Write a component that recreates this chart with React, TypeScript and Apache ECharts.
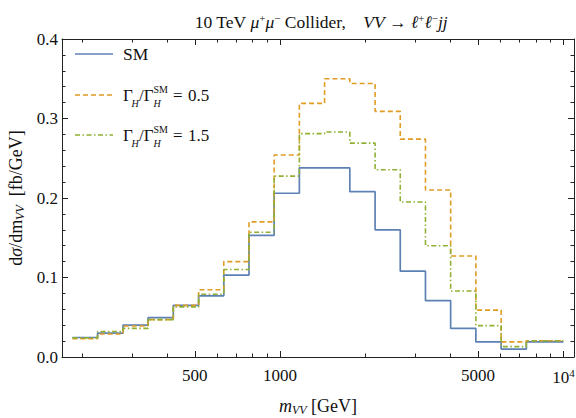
import React, { useEffect, useRef } from "react";
import * as echarts from "echarts";

// Histogram bin edges (GeV) and bin contents (fb/GeV)
const binEdges = [185, 227, 279, 342, 420, 516, 633, 777, 953, 1170, 1436, 1763, 2165, 2656, 3260, 4000, 4910, 6030, 7400, 10000];
const smValues = [0.0245, 0.030, 0.040, 0.0495, 0.065, 0.077, 0.103, 0.153, 0.206, 0.238, 0.238, 0.208, 0.160, 0.108, 0.071, 0.036, 0.019, 0.010, 0.019];
const width05Values = [0.023, 0.029, 0.039, 0.047, 0.065, 0.0845, 0.120, 0.170, 0.254, 0.319, 0.350, 0.344, 0.309, 0.274, 0.210, 0.127, 0.059, 0.019, 0.0205];
const width15Values = [0.024, 0.032, 0.036, 0.047, 0.063, 0.079, 0.110, 0.157, 0.2275, 0.281, 0.283, 0.269, 0.2355, 0.195, 0.140, 0.083, 0.0395, 0.013, 0.0205];

const seriesNames = ["SM", "ΓH/ΓH^SM = 0.5", "ΓH/ΓH^SM = 1.5"];
const legendRatios = ["0.5", "1.5"];

const majorXTicks = [500, 1000, 5000, 10000];
const minorXTicks = [200, 300, 400, 600, 700, 800, 900, 2000, 3000, 4000, 6000, 7000, 8000, 9000];
const xMin = 170;
const xMax = 10900;
const yMin = 0;
const yMax = 0.4;
const yInterval = 0.1;

const BLUE = "#5e81b5";
const ORANGE = "#e19c24";
const GREEN = "#8fb032";
const FRAME = "#222";
const FONT = "'Liberation Serif', 'DejaVu Serif', serif";

function stepData(values: number[]) {
  return binEdges.map((e, i) => [e, values[Math.min(i, values.length - 1)]]);
}

export default function App() {
  const ref = useRef<HTMLDivElement>(null);
  useEffect(() => {
    if (!ref.current) return;
    const chart = echarts.init(ref.current, null, { renderer: "svg" });

    const tickLine = { color: FRAME, width: 1 };
    const xBase = {
      type: "log" as const,
      logBase: 10,
      min: xMin,
      max: xMax,
      gridIndex: 0,
      splitLine: { show: false },
      minorTick: { show: false },
    };

    const nameRich = {
      i: { fontFamily: FONT, fontStyle: "italic", fontSize: 18, color: "#111", lineHeight: 20 },
      s: { fontFamily: FONT, fontStyle: "italic", fontSize: 12, color: "#111", verticalAlign: "bottom", lineHeight: 12 },
      n: { fontFamily: FONT, fontSize: 18, color: "#111", lineHeight: 20 },
    };

    const xAxes = [
      {
        ...xBase,
        position: "bottom",
        axisLine: { show: true, lineStyle: { color: FRAME, width: 1 } },
        axisTick: { show: true, inside: true, length: 6, lineStyle: tickLine, customValues: majorXTicks },
        axisLabel: {
          show: true,
          customValues: majorXTicks,
          margin: 10,
          color: "#111",
          fontFamily: FONT,
          fontSize: 17,
          formatter: (v: number) => (Math.abs(v - 10000) < 1 ? "{b|10}{s|4}" : String(Math.round(v))),
          rich: {
            b: { fontFamily: FONT, fontSize: 17, color: "#111", lineHeight: 20 },
            s: { fontFamily: FONT, fontSize: 11, color: "#111", verticalAlign: "top", lineHeight: 11 },
          },
        },
        name: "{i|m}{s|VV}{n| [GeV]}",
        nameLocation: "middle",
        nameGap: 39,
        nameTextStyle: { rich: nameRich },
      },
      {
        ...xBase,
        position: "bottom",
        axisLine: { show: false },
        axisTick: { show: true, inside: true, length: 3.5, lineStyle: tickLine, customValues: minorXTicks },
        axisLabel: { show: false },
      },
      {
        ...xBase,
        position: "top",
        axisLine: { show: true, lineStyle: { color: FRAME, width: 1 } },
        axisTick: { show: true, inside: true, length: 6, lineStyle: tickLine, customValues: majorXTicks },
        axisLabel: { show: false },
      },
      {
        ...xBase,
        position: "top",
        axisLine: { show: false },
        axisTick: { show: true, inside: true, length: 3.5, lineStyle: tickLine, customValues: minorXTicks },
        axisLabel: { show: false },
      },
    ];

    const yBase = {
      type: "value" as const,
      min: yMin,
      max: yMax,
      interval: yInterval,
      splitLine: { show: false },
      axisLine: { show: true, lineStyle: { color: FRAME, width: 1 } },
      axisTick: { show: true, inside: true, length: 6, lineStyle: tickLine },
      minorTick: { show: true, splitNumber: 5, length: 3.5, lineStyle: tickLine },
    };

    const yAxes = [
      {
        ...yBase,
        position: "left",
        axisLabel: {
          show: true,
          margin: 4,
          color: "#111",
          fontFamily: FONT,
          fontSize: 17,
          formatter: (v: number) => v.toFixed(1),
        },
        name: "{n|d}{i|σ}{n|/dm}{s|VV}{n|  [fb/GeV]}",
        nameLocation: "middle",
        nameRotate: 90,
        nameGap: 30,
        nameTextStyle: { rich: nameRich },
      },
      {
        ...yBase,
        position: "right",
        axisLabel: { show: false },
      },
    ];

    const legendText = (y: number, ratio: string) => {
      const base = { fontFamily: FONT, fill: "#111" };
      return [
        { type: "text", x: 123, y, style: { ...base, text: "Γ", fontSize: 17, verticalAlign: "middle" } },
        { type: "text", x: 131.5, y: y + 8.5, style: { ...base, text: "H", fontSize: 10, fontStyle: "italic", verticalAlign: "middle" } },
        { type: "text", x: 139, y, style: { ...base, text: "/Γ", fontSize: 17, verticalAlign: "middle" } },
        { type: "text", x: 153.5, y: y - 5.5, style: { ...base, text: "SM", fontSize: 10, verticalAlign: "middle" } },
        { type: "text", x: 153.5, y: y + 8.5, style: { ...base, text: "H", fontSize: 10, fontStyle: "italic", verticalAlign: "middle" } },
        { type: "text", x: 173, y, style: { ...base, text: "=", fontSize: 17, verticalAlign: "middle" } },
        { type: "text", x: 188, y, style: { ...base, text: ratio, fontSize: 17, verticalAlign: "middle" } },
      ];
    };

    const option: any = {
      animation: false,
      backgroundColor: "#fff",
      grid: { left: 62, right: 2, top: 39, bottom: 61, containLabel: false, outerBoundsMode: "none" },
      xAxis: xAxes,
      yAxis: yAxes,
      series: [
        {
          name: seriesNames[0],
          type: "line",
          step: "end",
          xAxisIndex: 0,
          yAxisIndex: 0,
          showSymbol: false,
          symbol: "none",
          lineStyle: { color: BLUE, width: 1.7 },
          data: stepData(smValues),
        },
        {
          name: seriesNames[1],
          type: "line",
          step: "end",
          xAxisIndex: 0,
          yAxisIndex: 0,
          showSymbol: false,
          symbol: "none",
          lineStyle: { color: ORANGE, width: 1.6, type: [5, 3] },
          data: stepData(width05Values),
        },
        {
          name: seriesNames[2],
          type: "line",
          step: "end",
          xAxisIndex: 0,
          yAxisIndex: 0,
          showSymbol: false,
          symbol: "none",
          lineStyle: { color: GREEN, width: 1.6, type: [5, 2.5, 1.5, 2.5] },
          data: stepData(width15Values),
        },
      ],
      graphic: [
        {
          type: "text",
          x: 321,
          y: 22,
          style: {
            text: "{r|10 TeV }{i|μ}{p|+}{i|μ}{p|−}{r| Collider,    }{i|VV}{r| → }{i|ℓ}{p|+}{i|ℓ}{p|−}{i|jj}",
            align: "center",
            verticalAlign: "middle",
            fontFamily: FONT,
            fontSize: 17.5,
            fill: "#111",
            rich: {
              r: { fontFamily: FONT, fontSize: 17.5, color: "#111", lineHeight: 20 },
              i: { fontFamily: FONT, fontSize: 17.5, fontStyle: "italic", color: "#111", lineHeight: 20 },
              p: { fontFamily: FONT, fontSize: 11, color: "#111", verticalAlign: "top", lineHeight: 10 },
            },
          },
        },
        { type: "line", shape: { x1: 75, y1: 54, x2: 113, y2: 54 }, style: { stroke: BLUE, lineWidth: 1.7 } },
        { type: "text", x: 123, y: 54, style: { text: "SM", fontFamily: FONT, fontSize: 17.5, fill: "#111", verticalAlign: "middle" } },
        { type: "line", shape: { x1: 75, y1: 95, x2: 113, y2: 95 }, style: { stroke: ORANGE, lineWidth: 1.6, lineDash: [5, 3] } },
        ...legendText(95, legendRatios[0]),
        { type: "line", shape: { x1: 75, y1: 135, x2: 113, y2: 135 }, style: { stroke: GREEN, lineWidth: 1.6, lineDash: [5, 2.5, 1.5, 2.5] } },
        ...legendText(135, legendRatios[1]),
      ],
    };

    chart.setOption(option);
    return () => chart.dispose();
  }, []);

  return (
    <div
      ref={ref}
      style={{ position: "fixed", left: 0, top: 0, width: 576, height: 418, background: "#fff" }}
    />
  );
}
